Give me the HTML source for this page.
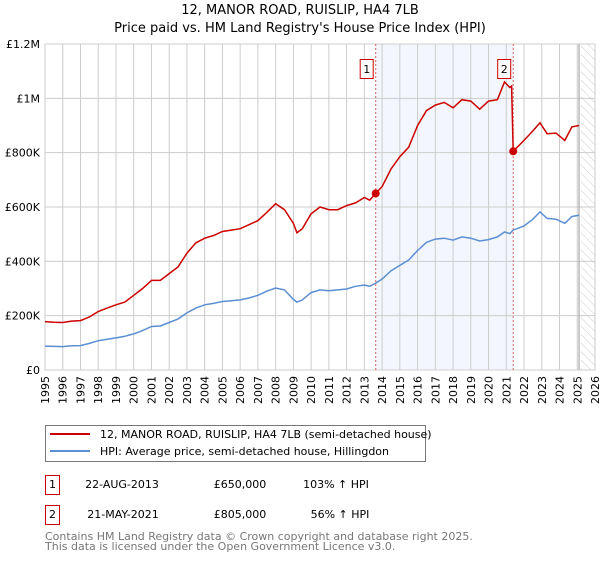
<!DOCTYPE html>
<html><head><meta charset="utf-8"><style>
body{margin:0;background:#fff;font-family:"Liberation Sans","DejaVu Sans",sans-serif;}
svg text{font-family:"DejaVu Sans","Liberation Sans",sans-serif;}
</style></head><body>
<svg id="chart" width="600" height="560" viewBox="0 0 600 560" xmlns="http://www.w3.org/2000/svg">
<defs><pattern id="hatch" width="6" height="6" patternUnits="userSpaceOnUse" patternTransform="rotate(-45)"><line x1="0" y1="0" x2="0" y2="6" stroke="#ccc" stroke-width="1"/></pattern></defs>
<text x="300" y="14" text-anchor="middle" font-size="13" fill="#000">12, MANOR ROAD, RUISLIP, HA4 7LB</text>
<text x="300" y="32" text-anchor="middle" font-size="13" fill="#000">Price paid vs. HM Land Registry's House Price Index (HPI)</text>
<g id="plot"></g>
<g>
<rect x="45.5" y="425.5" width="380" height="36" fill="#fff" stroke="#777"/>
<line x1="50" y1="434" x2="90" y2="434" stroke="#cc0000" stroke-width="2"/>
<text x="100" y="438" font-size="11">12, MANOR ROAD, RUISLIP, HA4 7LB (semi-detached house)</text>
<line x1="50" y1="451" x2="90" y2="451" stroke="#5b8fd4" stroke-width="2"/>
<text x="100" y="455" font-size="11">HPI: Average price, semi-detached house, Hillingdon</text>
</g>
<g font-size="11">
<rect x="45.5" y="475.5" width="14" height="19" fill="#fff" stroke="#cc0000"/>
<text x="52.5" y="488" text-anchor="middle">1</text>
<text x="122" y="488" text-anchor="middle">22-AUG-2013</text>
<text x="240" y="488" text-anchor="middle">£650,000</text>
<text x="336" y="488" text-anchor="middle">103% ↑ HPI</text>
<rect x="45.5" y="505.5" width="14" height="19" fill="#fff" stroke="#cc0000"/>
<text x="52.5" y="518" text-anchor="middle">2</text>
<text x="123" y="518" text-anchor="middle">21-MAY-2021</text>
<text x="240" y="518" text-anchor="middle">£805,000</text>
<text x="340" y="518" text-anchor="middle">56% ↑ HPI</text>
</g>
<text x="45" y="540" font-size="11" fill="#777">Contains HM Land Registry data © Crown copyright and database right 2025.</text>
<text x="45" y="550" font-size="11" fill="#777">This data is licensed under the Open Government Licence v3.0.</text>
</svg>
<script>
const hpiYears=[1995,1995.5,1996,1996.5,1997,1997.5,1998,1998.5,1999,1999.5,2000,2000.5,2001,2001.5,2002,2002.5,2003,2003.5,2004,2004.5,2005,2005.5,2006,2006.5,2007,2007.5,2008,2008.5,2009,2009.2,2009.5,2010,2010.5,2011,2011.5,2012,2012.5,2013,2013.3,2013.64,2014,2014.5,2015,2015.5,2016,2016.5,2017,2017.5,2018,2018.5,2019,2019.5,2020,2020.5,2020.9,2021.2,2021.39,2022,2022.5,2022.9,2023.3,2023.8,2024.3,2024.7,2025.1];
const hpiValues=[88,87,86,89,90,98,108,113,118,124,133,145,160,162,175,188,210,228,240,245,252,255,258,265,275,290,302,295,260,250,258,285,295,292,295,298,308,313,308,320,335,365,385,405,440,470,482,485,478,490,485,475,480,490,508,502,515,530,555,582,558,555,540,565,570];
const priceYears=[1995,1995.5,1996,1996.5,1997,1997.5,1998,1998.5,1999,1999.5,2000,2000.5,2001,2001.5,2002,2002.5,2003,2003.5,2004,2004.5,2005,2005.5,2006,2006.5,2007,2007.5,2008,2008.5,2009,2009.2,2009.5,2010,2010.5,2011,2011.5,2012,2012.5,2013,2013.3,2013.64,2014,2014.5,2015,2015.5,2016,2016.5,2017,2017.5,2018,2018.5,2019,2019.5,2020,2020.5,2020.9,2021.2,2021.3,2021.39,2022,2022.5,2022.9,2023.3,2023.8,2024.3,2024.7,2025.1];
const priceValues=[178,176,175,180,182,195,215,228,240,250,275,300,330,330,355,380,430,468,485,495,510,515,520,535,550,580,612,590,540,505,520,575,600,590,590,605,615,635,625,650,675,740,785,820,900,955,975,985,965,995,990,960,990,995,1060,1040,1045,805,845,880,910,870,872,845,895,900];
const saleYears=[2013.64,2021.39];
const saleValues=[650,805];
const saleLabels=["1","2"];
const yTicks=[0,200,400,600,800,1000,1200];
const yTickLabels=["£0","£200K","£400K","£600K","£800K","£1M","£1.2M"];
const xTicks=[1995,1996,1997,1998,1999,2000,2001,2002,2003,2004,2005,2006,2007,2008,2009,2010,2011,2012,2013,2014,2015,2016,2017,2018,2019,2020,2021,2022,2023,2024,2025,2026];

const L=45,R=595,T=44,B=370;
const xS=v=>L+(v-1995)/(2026-1995)*(R-L);
const yS=v=>B-v/1200*(B-T);
const NS="http://www.w3.org/2000/svg";
const g=document.getElementById('plot');
function mk(tag,attrs){const e=document.createElementNS(NS,tag);for(const k in attrs)e.setAttribute(k,attrs[k]);g.appendChild(e);return e;}

let e=mk('rect',{x:xS(saleYears[0]),y:T,width:xS(saleYears[1])-xS(saleYears[0]),height:B-T,fill:'#eef3fc',opacity:0.7});


e=mk('rect',{x:xS(2025.2),y:T,width:R-xS(2025.2),height:B-T,fill:'url(#hatch)'});


xTicks.forEach(t=>{
  const l=mk('line',{x1:xS(t),x2:xS(t),y1:T,y2:B,stroke:'#ccc','stroke-width':1});
  
  
  const x=xS(t)+4,y=B+6;
  const tx=mk('text',{x:x,y:y,'font-size':11,'text-anchor':'end',transform:`rotate(-90 ${x} ${y})`});
  tx.textContent=t;
  
  
});
yTicks.forEach((t,i)=>{
  const l=mk('line',{x1:L,x2:R,y1:yS(t),y2:yS(t),stroke:'#ccc','stroke-width':1});
  
  
  const tx=mk('text',{x:L-5,y:yS(t)+4,'font-size':11,'text-anchor':'end'});
  tx.textContent=yTickLabels[i];
  
  
});
e=mk('line',{x1:xS(2025.1),x2:xS(2025.1),y1:T,y2:B,stroke:'#999','stroke-width':1});


e=mk('rect',{x:L,y:T,width:R-L,height:B-T,fill:'none',stroke:'#ccc'});


saleYears.forEach((s,i)=>{
  const l=mk('line',{x1:xS(s),x2:xS(s),y1:T,y2:B,stroke:'#e06060','stroke-width':1,'stroke-dasharray':'2,2'});
  
  
});
const pts=(xs,vs)=>xs.map((x,i)=>xS(x).toFixed(1)+','+yS(vs[i]).toFixed(1)).join(' ');
e=mk('polyline',{points:pts(hpiYears,hpiValues),fill:'none',stroke:'#5b8fd4','stroke-width':1.5});


e=mk('polyline',{points:pts(priceYears,priceValues),fill:'none',stroke:'#cc0000','stroke-width':1.5});


saleYears.forEach((s,i)=>{
  const c=mk('circle',{cx:xS(s),cy:yS(saleValues[i]),r:4,fill:'#cc0000'});
  
  
  const bx=xS(s)-16;
  const r=mk('rect',{x:bx+0.5,y:59.5,width:13,height:19,fill:'#fff',stroke:'#cc0000'});
  
  
  const t=mk('text',{x:bx+7,y:73,'font-size':11,'text-anchor':'middle'});
  t.textContent=saleLabels[i];
  
  
});
</script>
</body></html>
